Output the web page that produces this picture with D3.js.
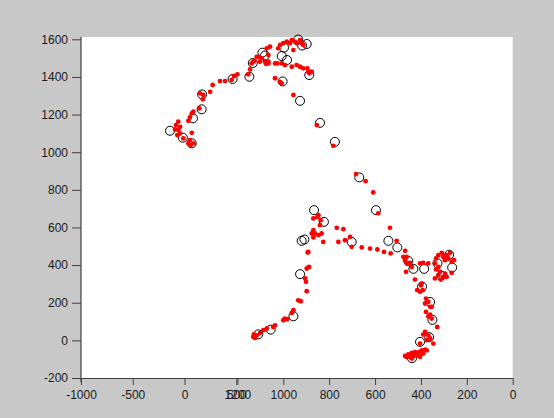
<!DOCTYPE html>
<html>
<head>
<meta charset="utf-8">
<script src="https://cdn.jsdelivr.net/npm/d3@7"></script>
<style>
  body { margin: 0; background: #c8c8c8; }
  svg { display: block; }
  .axis text { font-family: "Liberation Sans", Arial, sans-serif; font-size: 12px; fill: #1a1a1a; }
  .axis path, .axis line { stroke: #404040; }
</style>
</head>
<body>
<div id="chart"></div>
<script>
//tick labels of the two overlapping x axes and the y axis
const xTicksA = [-1000, -500, 0, 500];
const xTicksB = [1200, 1000, 800, 600, 400, 200, 0];
const yTicks = [-200, 0, 200, 400, 600, 800, 1000, 1200, 1400, 1600];

//open black circles
const circleX = [1494, 1438, 1399, 1394, 1356, 1354, 1221, 1148, 1133, 1091, 1080, 1007, 984, 997, 935, 918, 898, 887, 1003, 927,
  840, 775, 669, 596, 866, 823, 908, 920, 702, 542, 503, 927, 956, 1055, 1109, 455, 433, 386, 277, 264,
  328, 311, 395, 360, 350, 364, 404, 439];
const circleY = [1114, 1077, 1047, 1180, 1228, 1307, 1389, 1401, 1474, 1529, 1514, 1511, 1490, 1556, 1599, 1567, 1575, 1410, 1376, 1273,
  1156, 1055, 866, 692, 692, 630, 536, 529, 523, 529, 494, 352, 128, 57, 32, 422, 380, 380, 455, 387,
  410, 344, 286, 204, 109, 17, -8, -95];

//red dots
const dotX = [1458, 1468, 1450, 1472, 1458, 1450, 1462, 1436, 1399, 1407, 1414, 1404, 1392, 1414, 1407, 1399, 1392, 1366, 1351, 1363,
  1349, 1319, 1308, 1276, 1254, 1225, 1215, 1200, 1153, 1145, 1138, 1126, 1109, 1102, 1094, 1075, 1065, 1065,
  1131, 1116, 1080, 1065, 1072, 1058, 1036, 1026, 1022, 1014, 1000, 985, 971, 963, 949, 942, 920, 913, 956,
  1007, 993, 963, 942, 927, 913, 895, 891, 887, 876, 1036, 1014, 1007, 956, 927,
  854, 782, 683, 641, 608, 586, 535, 506, 469, 462, 767, 738, 709, 702, 731, 760, 658, 622, 590, 561, 532,
  826, 891, 869, 847, 837, 840, 869, 862, 847, 833, 869, 852, 876, 894, 898, 888, 905, 901, 898, 935, 924,
  956, 963, 993, 1000, 983, 1036, 1044, 1072, 1087, 1102, 1116, 1128, 1131, 1123,
  477, 469, 462, 448, 440, 465, 426, 404, 390, 368, 334, 339, 324, 334, 324, 309, 303, 295, 288, 281, 273,
  266, 256, 317, 324, 303, 295, 288, 339, 266, 314, 400, 392, 416, 404, 378, 368, 382, 360, 353, 378, 368,
  360, 353, 329, 382, 390, 368, 360, 375, 346, 404, 382, 397, 411, 426, 440, 418, 397, 433, 448, 462, 469,
  455, 440, 404, 390, 375, 397];
const dotY = [1162, 1144, 1135, 1121, 1118, 1100, 1091, 1073, 1103, 1064, 1047, 1038, 1047, 1167, 1185, 1206, 1215, 1233, 1281, 1313,
  1304, 1321, 1357, 1378, 1378, 1384, 1405, 1414, 1414, 1440, 1472, 1485, 1507, 1481, 1499, 1469, 1481, 1516,
  1481, 1507, 1481, 1472, 1552, 1561, 1472, 1472, 1552, 1570, 1579, 1587, 1579, 1596, 1587, 1579, 1579, 1570, 1543,
  1472, 1463, 1454, 1463, 1454, 1446, 1446, 1428, 1419, 1428, 1393, 1374, 1366, 1304, 1596,
  1144, 1034, 884, 846, 786, 675, 598, 529, 476, 444, 598, 591, 550, 497, 532, 523, 494, 488, 483, 470, 462,
  523, 470, 648, 665, 639, 612, 586, 568, 559, 568, 547, 656, 568, 467, 382, 390, 329, 311, 261, 213, 208,
  160, 146, 116, 107, 112, 80, 71, 63, 54, 39, 27, 32, 18, 13,
  444, 426, 409, 412, 390, 364, 323, 409, 412, 409, 435, 409, 390, 377, 453, 465, 444, 426, 453, 435, 465,
  417, 426, 364, 346, 337, 355, 337, 329, 359, 323, 293, 267, 267, 258, 222, 204, 196, 178, 178, 151, 128,
  137, 116, 71, 45, 31, 27, 10, 1, -17, -17, -49, -53, -62, -62, -67, -79, -70, -85, -88, -88, -83,
  -75, -97, -88, -70, -53, 302];

const width = 554, height = 418;
const plot = { left: 81, right: 512.7, top: 37, bottom: 378 };

const svg = d3
  .select("#chart")
  .append("svg")
  .attr("width", width)
  .attr("height", height);

svg.append("rect")
  .attr("width", width)
  .attr("height", height)
  .attr("fill", "#c8c8c8");

//white plotting area
svg.append("rect")
  .attr("x", plot.left)
  .attr("y", plot.top)
  .attr("width", plot.right - plot.left)
  .attr("height", plot.bottom - plot.top)
  .attr("fill", "#ffffff");

//data axis runs right to left, a second axis runs the other way on top of it
const x = d3.scaleLinear().domain([1882, 0]).range([plot.left, plot.right]);
const xA = d3.scaleLinear().domain([-1000, 3170]).range([plot.left, plot.right]);
const y = d3.scaleLinear().domain([-200, 1600]).range([plot.bottom, 39.3]);

const axisStyle = (g) => {
  g.attr("class", "axis");
  g.select(".domain").attr("stroke-width", 1.2);
};

svg.append("g")
  .attr("transform", "translate(0," + plot.bottom + ")")
  .call(d3.axisBottom(xA).tickValues(xTicksA).tickSize(7).tickSizeOuter(0).tickPadding(5).tickFormat(d3.format("d")))
  .call(axisStyle);

svg.append("g")
  .attr("transform", "translate(0," + plot.bottom + ")")
  .call(d3.axisBottom(x).tickValues(xTicksB).tickSize(7).tickSizeOuter(0).tickPadding(5).tickFormat(d3.format("d")))
  .call(axisStyle);

svg.append("g")
  .attr("transform", "translate(" + plot.left + ",0)")
  .call(d3.axisLeft(y).tickValues(yTicks).tickSize(9).tickSizeOuter(0).tickPadding(4).tickFormat(d3.format("d")))
  .call(axisStyle)
  .select(".domain")
  .attr("d", "M0," + plot.top + "V" + (plot.bottom + 4));

//use the unicode minus-like hyphen as in the reference
svg.selectAll(".axis text").text(function () {
  return this.textContent.replace("\u2212", "-");
});

const circles = circleX.map((v, i) => ({ x: v, y: circleY[i] }));
const dots = dotX.map((v, i) => ({ x: v, y: dotY[i] }));

svg.append("g")
  .selectAll("circle")
  .data(circles)
  .enter()
  .append("circle")
  .attr("cx", (d) => x(d.x))
  .attr("cy", (d) => y(d.y))
  .attr("r", 4.5)
  .attr("fill", "none")
  .attr("stroke", "#000")
  .attr("stroke-width", 1);

svg.append("g")
  .selectAll("circle")
  .data(dots)
  .enter()
  .append("circle")
  .attr("cx", (d) => x(d.x))
  .attr("cy", (d) => y(d.y))
  .attr("r", 2.4)
  .attr("fill", "#ff0000");
</script>
</body>
</html>
